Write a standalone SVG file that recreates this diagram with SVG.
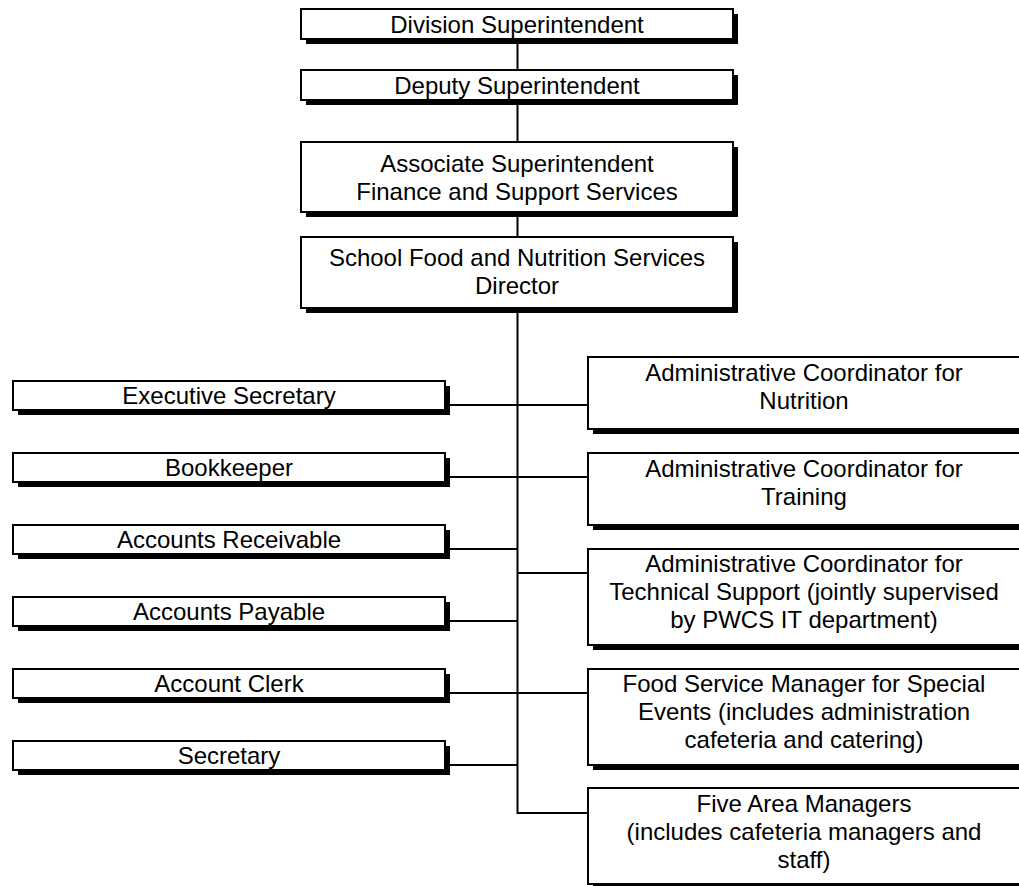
<svg xmlns="http://www.w3.org/2000/svg" width="1019" height="886" viewBox="0 0 1019 886">
  <style>
    .shadow { fill: #000; }
    .box { fill: #fff; stroke: #000; stroke-width: 2; }
    .lbl { font-family: "Liberation Sans", Arial, sans-serif; font-size: 24px; fill: #000; text-anchor: middle; }
    .wire { fill: none; stroke: #000; stroke-width: 2; }
  </style>
  <rect width="1019" height="886" fill="#fff"/>

  <!-- reporting lines -->
  <g id="connectors">
    <path class="wire" d="M517.5,39 V813 H588"/>
    <path class="wire" d="M450,405 H588"/>
    <path class="wire" d="M450,477 H588"/>
    <path class="wire" d="M450,549 H517.5"/>
    <path class="wire" d="M517.5,573 H588"/>
    <path class="wire" d="M450,621 H517.5"/>
    <path class="wire" d="M450,693 H588"/>
    <path class="wire" d="M450,765 H517.5"/>
  </g>

  <!-- central chain -->
  <g id="division-superintendent">
    <rect class="shadow" x="306" y="14" width="432" height="30"/>
    <rect class="box" x="301" y="9" width="432" height="30"/>
    <text class="lbl" x="517" y="32.5">Division Superintendent</text>
  </g>
  <g id="deputy-superintendent">
    <rect class="shadow" x="306" y="75" width="432" height="30"/>
    <rect class="box" x="301" y="70" width="432" height="30"/>
    <text class="lbl" x="517" y="93.5">Deputy Superintendent</text>
  </g>
  <g id="associate-superintendent">
    <rect class="shadow" x="306" y="147" width="432" height="70"/>
    <rect class="box" x="301" y="142" width="432" height="70"/>
    <text class="lbl" x="517" y="172">Associate Superintendent</text>
    <text class="lbl" x="517" y="200">Finance and Support Services</text>
  </g>
  <g id="sfns-director">
    <rect class="shadow" x="306" y="242" width="432" height="71"/>
    <rect class="box" x="301" y="237" width="432" height="71"/>
    <text class="lbl" x="517" y="266">School Food and Nutrition Services</text>
    <text class="lbl" x="517" y="294">Director</text>
  </g>

  <!-- left column -->
  <g id="executive-secretary">
    <rect class="shadow" x="18" y="386" width="432" height="29"/>
    <rect class="box" x="13" y="381" width="432" height="29"/>
    <text class="lbl" x="229" y="404">Executive Secretary</text>
  </g>
  <g id="bookkeeper">
    <rect class="shadow" x="18" y="458" width="432" height="29"/>
    <rect class="box" x="13" y="453" width="432" height="29"/>
    <text class="lbl" x="229" y="476">Bookkeeper</text>
  </g>
  <g id="accounts-receivable">
    <rect class="shadow" x="18" y="530" width="432" height="29"/>
    <rect class="box" x="13" y="525" width="432" height="29"/>
    <text class="lbl" x="229" y="548">Accounts Receivable</text>
  </g>
  <g id="accounts-payable">
    <rect class="shadow" x="18" y="602" width="432" height="29"/>
    <rect class="box" x="13" y="597" width="432" height="29"/>
    <text class="lbl" x="229" y="620">Accounts Payable</text>
  </g>
  <g id="account-clerk">
    <rect class="shadow" x="18" y="674" width="432" height="29"/>
    <rect class="box" x="13" y="669" width="432" height="29"/>
    <text class="lbl" x="229" y="692">Account Clerk</text>
  </g>
  <g id="secretary">
    <rect class="shadow" x="18" y="746" width="432" height="29"/>
    <rect class="box" x="13" y="741" width="432" height="29"/>
    <text class="lbl" x="229" y="764">Secretary</text>
  </g>

  <!-- right column -->
  <g id="coordinator-nutrition">
    <rect class="shadow" x="593" y="362" width="432" height="72"/>
    <rect class="box" x="588" y="357" width="432" height="72"/>
    <text class="lbl" x="804" y="381">Administrative Coordinator for</text>
    <text class="lbl" x="804" y="409">Nutrition</text>
  </g>
  <g id="coordinator-training">
    <rect class="shadow" x="593" y="458" width="432" height="72"/>
    <rect class="box" x="588" y="453" width="432" height="72"/>
    <text class="lbl" x="804" y="477">Administrative Coordinator for</text>
    <text class="lbl" x="804" y="505">Training</text>
  </g>
  <g id="coordinator-tech-support">
    <rect class="shadow" x="593" y="554" width="432" height="96"/>
    <rect class="box" x="588" y="549" width="432" height="96"/>
    <text class="lbl" x="804" y="572">Administrative Coordinator for</text>
    <text class="lbl" x="804" y="600">Technical Support (jointly supervised</text>
    <text class="lbl" x="804" y="628">by PWCS IT department)</text>
  </g>
  <g id="special-events-manager">
    <rect class="shadow" x="593" y="674" width="432" height="96"/>
    <rect class="box" x="588" y="669" width="432" height="96"/>
    <text class="lbl" x="804" y="692">Food Service Manager for Special</text>
    <text class="lbl" x="804" y="720">Events (includes administration</text>
    <text class="lbl" x="804" y="748">cafeteria and catering)</text>
  </g>
  <g id="area-managers">
    <rect class="shadow" x="593" y="793" width="432" height="96"/>
    <rect class="box" x="588" y="788" width="432" height="96"/>
    <text class="lbl" x="804" y="812">Five Area Managers</text>
    <text class="lbl" x="804" y="840">(includes cafeteria managers and</text>
    <text class="lbl" x="804" y="868">staff)</text>
  </g>
</svg>
